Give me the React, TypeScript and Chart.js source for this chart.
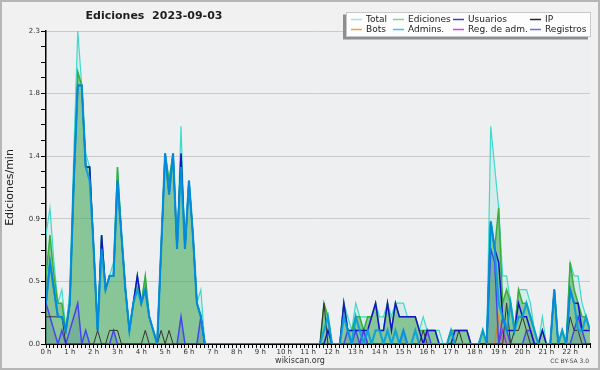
import React, { useEffect, useRef } from 'react';
import { Chart, registerables } from 'chart.js';

Chart.register(...registerables);

// ---- categories / tick labels ----
const hourLabels = ['0 h','1 h','2 h','3 h','4 h','5 h','6 h','7 h','8 h','9 h','10 h','11 h','12 h','13 h','14 h','15 h','16 h','17 h','18 h','19 h','20 h','21 h','22 h'];
const slotsPerHour = 6; // 10-minute slots
const timeSlots = Array.from({ length: hourLabels.length * slotsPerHour }, (_, i) => i);
const yMax = 2.3;
const yMinorPerMajor = 4;
const yMajorCount = 5;

// ---- series values (edits / min, 10-minute buckets) ----
const total = [
  0.8,1.0,0.6,0.3,0.4,0.1,
  0.4,1.4,2.3,1.9,1.4,1.3,
  0.7,0.1,0.8,0.4,0.5,0.6,
  1.3,0.8,0.4,0.1,0.3,0.5,
  0.3,0.5,0.2,0.1,0,0.7,
  1.4,1.2,1.4,0.7,1.6,0.7,
  1.2,0.8,0.3,0.4,0,0,
  0,0,0,0,0,0,
  0,0,0,0,0,0,
  0,0,0,0,0,0,
  0,0,0,0,0,0,
  0,0,0,0,0.3,0.2,
  0,0,0,0.3,0.2,0.1,
  0.3,0.2,0.2,0.2,0.2,0.3,
  0.2,0.2,0.3,0.2,0.3,0.3,
  0.3,0.2,0.2,0.2,0.1,0.2,
  0.1,0.1,0.1,0.1,0,0,
  0.1,0.1,0.1,0.1,0.1,0,
  0,0,0.1,0,1.6,1.3,
  1.0,0.5,0.5,0.3,0.1,0.4,
  0.4,0.4,0.3,0.1,0,0.2,
  0,0,0.4,0,0.1,0,
  0.6,0.5,0.5,0.3,0.2,0.1,
];
const ediciones = [
  0.5,0.8,0.5,0.3,0.3,0.1,
  0.3,1.2,2.0,1.9,1.3,1.3,
  0.7,0.1,0.8,0.4,0.5,0.5,
  1.3,0.8,0.4,0.1,0.3,0.5,
  0.3,0.5,0.2,0.1,0,0.7,
  1.4,1.2,1.4,0.7,1.4,0.7,
  1.2,0.8,0.3,0.2,0,0,
  0,0,0,0,0,0,
  0,0,0,0,0,0,
  0,0,0,0,0,0,
  0,0,0,0,0,0,
  0,0,0,0,0.3,0.2,
  0,0,0,0.3,0.1,0.1,
  0.2,0.2,0.1,0.2,0.2,0.3,
  0.1,0.1,0.3,0.1,0.3,0.2,
  0.2,0.2,0.2,0.2,0.1,0.1,
  0.1,0.1,0.1,0,0,0,
  0.1,0.1,0.1,0.1,0.1,0,
  0,0,0.1,0,0.9,0.7,
  1.0,0.3,0.4,0.3,0.1,0.4,
  0.3,0.3,0.2,0.1,0,0.1,
  0,0,0.4,0,0.1,0,
  0.6,0.4,0.3,0.2,0.2,0.1,
];
const usuarios = [
  0.3,0.6,0.4,0.2,0.2,0.1,
  0.3,1.2,1.9,1.9,1.3,1.3,
  0.7,0.1,0.8,0.4,0.5,0.5,
  1.2,0.8,0.4,0.1,0.3,0.5,
  0.3,0.4,0.2,0.1,0,0.7,
  1.4,1.1,1.4,0.7,1.4,0.7,
  1.2,0.8,0.3,0.2,0,0,
  0,0,0,0,0,0,
  0,0,0,0,0,0,
  0,0,0,0,0,0,
  0,0,0,0,0,0,
  0,0,0,0,0,0.1,
  0,0,0,0.3,0.1,0.1,
  0.1,0.1,0.1,0.1,0.2,0.3,
  0.1,0.1,0.3,0.1,0.3,0.2,
  0.2,0.2,0.2,0.2,0.1,0,
  0.1,0.1,0.1,0,0,0,
  0,0.1,0.1,0.1,0.1,0,
  0,0,0,0,0.9,0.7,
  0.6,0.2,0.1,0.1,0.1,0.3,
  0.2,0.2,0.1,0,0,0.1,
  0,0,0.4,0,0,0,
  0.4,0.3,0.3,0.1,0.1,0.1,
];
const ip = [
  0.2,0.2,0.2,0.2,0.2,0,
  0,0,0,0,0,0,
  0,0.1,0,0,0.1,0.1,
  0.1,0,0,0,0,0,
  0,0.1,0,0,0,0.1,
  0,0.1,0,0,0,0,
  0,0,0,0,0,0,
  0,0,0,0,0,0,
  0,0,0,0,0,0,
  0,0,0,0,0,0,
  0,0,0,0,0,0,
  0,0,0,0,0.3,0,
  0,0,0,0,0,0,
  0,0,0,0,0,0,
  0,0,0,0,0,0,
  0,0,0,0,0,0.1,
  0,0,0,0,0,0,
  0,0,0.1,0,0,0,
  0,0,0,0,0,0,
  0,0,0.3,0,0.1,0.1,
  0.2,0.1,0,0,0,0,
  0,0,0,0,0,0,
  0.2,0.1,0.1,0,0,0,
];
const bots = [
  0,0,0,0,0,0, 0,0,0,0,0,0, 0,0,0,0,0,0, 0,0,0,0,0,0,
  0,0,0,0,0,0, 0,0,0,0,0,0, 0,0,0,0,0,0, 0,0,0,0,0,0,
  0,0,0,0,0,0, 0,0,0,0,0,0, 0,0,0,0,0,0, 0,0,0,0,0,0,
  0,0,0,0,0,0, 0,0,0,0,0,0, 0,0,0,0,0,0, 0,0,0,0,0,0,
  0,0,0,0,0,0, 0,0,0,0,0,0, 0,0,0,0,0,0,
  0.2,0,0,0,0,0,
  0,0,0,0,0,0, 0,0,0,0,0,0, 0,0,0,0,0,0,
];
const admins = [
  0.3,0.6,0.4,0.2,0.2,0.1,
  0.3,1.2,1.9,1.9,1.3,1.2,
  0.7,0.1,0.7,0.4,0.5,0.5,
  1.2,0.8,0.4,0.1,0.3,0.4,
  0.3,0.4,0.2,0.1,0,0.7,
  1.4,1.1,1.4,0.7,1.3,0.7,
  1.2,0.8,0.3,0.2,0,0,
  0,0,0,0,0,0,
  0,0,0,0,0,0,
  0,0,0,0,0,0,
  0,0,0,0,0,0,
  0,0,0,0,0.1,0.2,
  0,0,0,0.2,0.1,0,
  0.2,0.1,0,0.1,0,0.1,
  0.1,0,0.1,0,0.1,0,
  0.1,0,0,0.1,0,0,
  0,0,0,0,0,0,
  0.1,0,0,0,0,0,
  0,0,0.1,0,0.9,0.7,
  0.3,0.2,0.1,0.3,0.1,0.2,
  0.2,0.3,0.2,0.1,0,0,
  0,0,0.4,0,0.1,0,
  0.4,0.3,0.1,0.1,0.2,0.1,
];
const regAdm = [
  0,0,0,0,0,0, 0,0,0,0,0,0, 0,0,0,0,0,0, 0,0,0,0,0,0,
  0,0,0,0,0,0, 0,0,0,0,0,0, 0,0,0,0,0,0, 0,0,0,0,0,0,
  0,0,0,0,0,0, 0,0,0,0,0,0, 0,0,0,0,0,0, 0,0,0,0,0,0,
  0,0,0,0,0,0,
  0,0,0.1,0,0,0,
  0,0,0,0,0,0, 0,0,0,0,0,0, 0,0,0,0,0,0, 0,0,0,0,0,0, 0,0,0,0,0,0,
  0,0.1,0,0,0,0,
  0,0,0,0,0,0, 0,0,0,0,0,0, 0,0,0,0,0,0,
];
const registros = [
  0.3,0.2,0.1,0,0.1,0,
  0.1,0.2,0.3,0,0.1,0,
  0,0,0,0,0,0.1,
  0,0,0,0,0,0,
  0,0,0,0,0,0,
  0,0,0,0,0.2,0,
  0,0,0,0.2,0,0,
  0,0,0,0,0,0,
  0,0,0,0,0,0,
  0,0,0,0,0,0,
  0,0,0,0,0,0,
  0,0,0,0,0,0,
  0,0,0,0,0.1,0,
  0.1,0,0.1,0,0,0,
  0,0,0,0,0,0,
  0.1,0,0,0,0,0,
  0.1,0,0,0,0,0,
  0,0,0,0,0,0,
  0,0,0,0,0.7,0.6,
  0,0.2,0.1,0,0,0,
  0,0.1,0.1,0,0,0,
  0,0,0,0,0,0,
  0,0.1,0.2,0.1,0,0,
];

// legend (drawn in wikiscan's 4x2 grid)
const legendNames = ['Total', 'Ediciones', 'Usuarios', 'IP', 'Bots', 'Admins.', 'Reg. de adm.', 'Registros'];
const legendColors = ['#a3e4dc', '#92d092', '#3d3dd8', '#2a2a2a', '#f3a23a', '#40c6e6', '#d046d8', '#6c6ce8'];

const FONT = '"DejaVu Sans", "Liberation Sans", sans-serif';

const decor = {
  id: 'decor',
  beforeDraw(chart: any) {
    const { ctx, chartArea: a, width, height } = chart;
    ctx.save();
    ctx.fillStyle = '#f1f1f1';
    ctx.fillRect(0, 0, width, height);
    ctx.fillStyle = '#edeff1';
    ctx.fillRect(a.left, a.top, a.right - a.left, a.bottom - a.top);
    ctx.strokeStyle = '#b6b6b6';
    ctx.lineWidth = 2;
    ctx.strokeRect(1, 1, width - 2, height - 2);
    ctx.restore();
  },
  afterDraw(chart: any) {
    const { ctx, chartArea: a } = chart;
    ctx.save();
    // title
    ctx.fillStyle = '#1e1e1e';
    ctx.font = `bold 11px ${FONT}`;
    ctx.textAlign = 'center';
    ctx.textBaseline = 'middle';
    ctx.fillText('Ediciones  2023-09-03', 154, 16);
    // y title
    ctx.save();
    ctx.translate(10, (a.top + a.bottom) / 2);
    ctx.rotate(-Math.PI / 2);
    ctx.font = `11px ${FONT}`;
    ctx.fillStyle = '#222';
    ctx.fillText('Ediciones/min', 0, 0);
    ctx.restore();
    // footer
    ctx.font = `8px ${FONT}`;
    ctx.fillStyle = '#333';
    ctx.fillText('wikiscan.org', 300, 361);
    ctx.font = `6px ${FONT}`;
    ctx.textAlign = 'right';
    ctx.fillStyle = '#444';
    ctx.fillText('CC BY-SA 3.0', 589, 361);
    // legend box with shadow
    const bx = 346, by = 12, bw = 245, bh = 25;
    ctx.fillStyle = '#8e8e8e';
    ctx.fillRect(bx - 3, by + 2.5, bw, bh);
    ctx.fillStyle = '#fdfdfd';
    ctx.fillRect(bx, by, bw, bh);
    ctx.strokeStyle = '#c8c8c8';
    ctx.lineWidth = 1;
    ctx.strokeRect(bx + 0.5, by + 0.5, bw - 1, bh - 1);
    const colX = [366, 408, 468, 545];
    const rowY = [19.5, 29.5];
    ctx.font = `9px ${FONT}`;
    ctx.textAlign = 'left';
    legendNames.forEach((name, i) => {
      const cx = colX[i % 4];
      const cy = rowY[Math.floor(i / 4)];
      ctx.strokeStyle = legendColors[i];
      ctx.lineWidth = 1.5;
      ctx.beginPath();
      ctx.moveTo(cx - 15, cy);
      ctx.lineTo(cx - 4, cy);
      ctx.stroke();
      ctx.fillStyle = '#222';
      ctx.fillText(name, cx, cy + 0.5);
    });
    ctx.restore();
  },
};

function line(label: string, data: number[], color: string, width: number, fill?: string) {
  return {
    label,
    data,
    borderColor: color,
    borderWidth: width,
    backgroundColor: fill || 'transparent',
    fill: fill ? 'origin' : false,
    pointRadius: 0,
    tension: 0,
  };
}

export default function App() {
  const ref = useRef<HTMLCanvasElement>(null);
  useEffect(() => {
    document.body.style.margin = '0';
    const lastSlot = timeSlots[timeSlots.length - 1];
    const chart = new Chart(ref.current as HTMLCanvasElement, {
      type: 'line',
      data: {
        labels: timeSlots,
        datasets: [
          line('Admins.', admins, 'rgba(0,158,222,0.85)', 2.2),
          line('Usuarios', usuarios, '#1515c8', 1.5),
          line('IP', ip, '#333333', 1),
          line('Registros', registros, '#4646ee', 1.5, 'rgba(20,60,150,0.15)'),
          line('Reg. de adm.', regAdm, '#c232d2', 1.5),
          line('Bots', bots, '#f09020', 1.5),
          line('Ediciones', ediciones, '#3aae3a', 1.5, 'rgba(60,160,70,0.5)'),
          line('Total', total, '#40dacb', 1.2, 'rgba(80,220,200,0.15)'),
        ] as any,
      },
      options: {
        animation: false,
        responsive: false,
        devicePixelRatio: 1,
        layout: { padding: { left: 0, right: 10, top: 31, bottom: 0 } },
        plugins: { legend: { display: false }, tooltip: { enabled: false }, title: { display: false } },
        scales: {
          x: {
            type: 'linear',
            min: 0,
            max: lastSlot,
            z: 1,
            afterBuildTicks: (s: any) => {
              s.ticks = timeSlots.map((v) => ({ value: v }));
            },
            afterFit: (s: any) => { s.height = 26; },
            border: { color: '#000', width: 2 },
            grid: { drawOnChartArea: false, tickLength: 4, tickColor: '#000', tickWidth: 1 },
            ticks: {
              autoSkip: false,
              maxRotation: 0,
              minRotation: 0,
              padding: 0,
              color: '#333',
              font: { family: FONT, size: 7 },
              callback: (v: any) => (v % slotsPerHour === 0 ? hourLabels[v / slotsPerHour] : ''),
            },
          },
          y: {
            min: 0,
            max: yMax,
            afterBuildTicks: (s: any) => {
              const n = yMajorCount * yMinorPerMajor;
              s.ticks = Array.from({ length: n + 1 }, (_, k) => ({ value: (yMax * k) / n }));
            },
            afterFit: (s: any) => { s.width = 46; },
            border: { color: '#000', width: 1.5 },
            grid: {
              color: (c: any) => (c.index % yMinorPerMajor === 0 ? '#cacaca' : 'rgba(0,0,0,0)'),
              tickColor: '#000',
              tickLength: 5,
              lineWidth: 1,
            },
            ticks: {
              padding: 1,
              color: '#333',
              font: { family: FONT, size: 7 },
              callback: (v: any, i: number) => (i % yMinorPerMajor === 0 ? Number(v).toFixed(1) : ''),
            },
          },
        },
      } as any,
      plugins: [decor],
    });
    return () => chart.destroy();
  }, []);
  return (
    <div style={{ width: 600, height: 370 }}>
      <canvas ref={ref} width={600} height={370} style={{ display: 'block' }} />
    </div>
  );
}
